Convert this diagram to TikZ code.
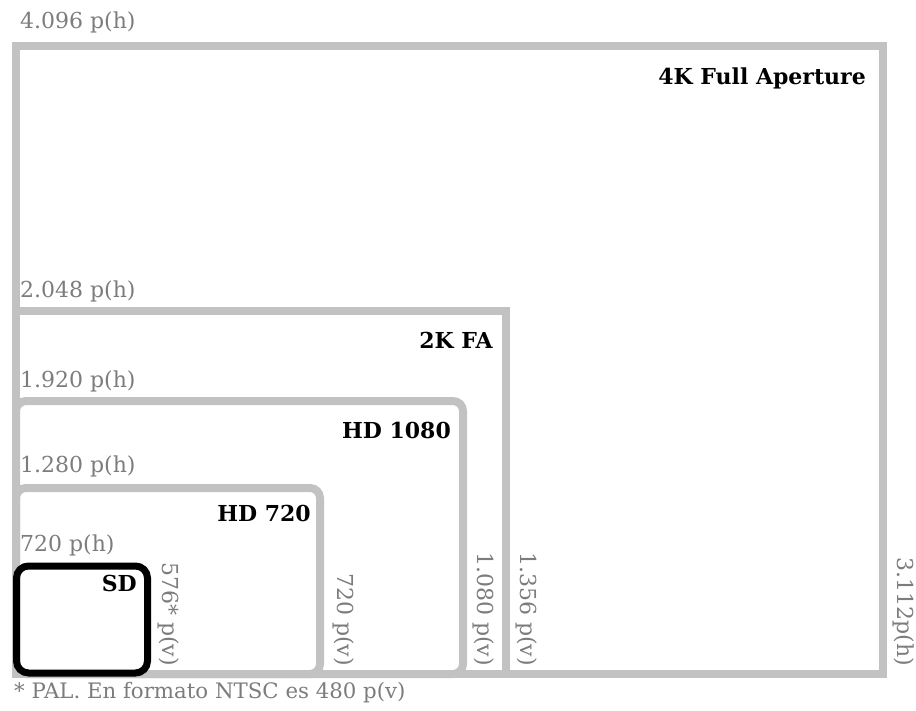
\documentclass[tikz,border=0pt]{standalone}
\usepackage{tikz}
\usepackage{fontspec}
\setmainfont{DejaVu Serif}
\definecolor{linegray}{HTML}{C2C2C2}
\definecolor{textgray}{HTML}{7C7C7C}
\tikzset{
  frame/.style={draw=linegray, line width=8pt, anchor=north west, inner sep=0pt, outer sep=0pt},
  rframe/.style={frame, rounded corners=10pt},
  sdframe/.style={draw=black, line width=7pt, anchor=north west, inner sep=0pt, outer sep=0pt, rounded corners=12pt},
  dim/.style={text=textgray, font=\fontsize{22}{25}\selectfont, inner sep=0pt},
  hlab/.style={dim, anchor=west},
  vlab/.style={dim, rotate=-90, anchor=east},
  title/.style={text=black, font=\fontsize{22}{25}\selectfont\bfseries, inner sep=0pt, anchor=east},
}
\begin{document}
\begin{tikzpicture}[x=1pt,y=-1pt]
\useasboundingbox (0,0) rectangle (916,710);
% frames
\node[frame, minimum width=867pt, minimum height=628pt] (k4) at (16,46) {};
\node[frame, minimum width=490pt, minimum height=363pt] (k2) at (16,311) {};
\node[rframe, minimum width=447pt, minimum height=273pt] (hd1080) at (16,401) {};
\node[rframe, minimum width=304pt, minimum height=186pt] (hd720) at (16,488) {};
\node[sdframe, minimum width=131pt, minimum height=107pt] (sd) at (16.5,566) {};
% horizontal dimension labels
\node[hlab] (l4096) at (20,22) {4.096 p(h)};
\node[hlab] (l2048) at (20,291) {2.048 p(h)};
\node[hlab] (l1920) at (20,381) {1.920 p(h)};
\node[hlab] (l1280) at (20,466) {1.280 p(h)};
\node[hlab] (l720h) at (20,545) {720 p(h)};
% titles
\node[title] (t4k) at (866,78) {4K Full Aperture};
\node[title] (t2k) at (493,340) {2K FA};
\node[title] (t1080) at (451,430) {HD 1080};
\node[title] (t720) at (311,513) {HD 720};
\node[title] (tsd) at (137,583) {SD};
% vertical dimension labels
\node[vlab] (v576) at (169,666) {576* p(v)};
\node[vlab] (v720) at (344,666) {720 p(v)};
\node[vlab] (v1080) at (484,666) {1.080 p(v)};
\node[vlab] (v1356) at (527,666) {1.356 p(v)};
\node[vlab] (v3112) at (904,666) {3.112p(h)};
% footnote
\node[hlab, font=\fontsize{21.3}{24}\selectfont] (foot) at (14,693) {* PAL. En formato NTSC es 480 p(v)};
\end{tikzpicture}
\end{document}
